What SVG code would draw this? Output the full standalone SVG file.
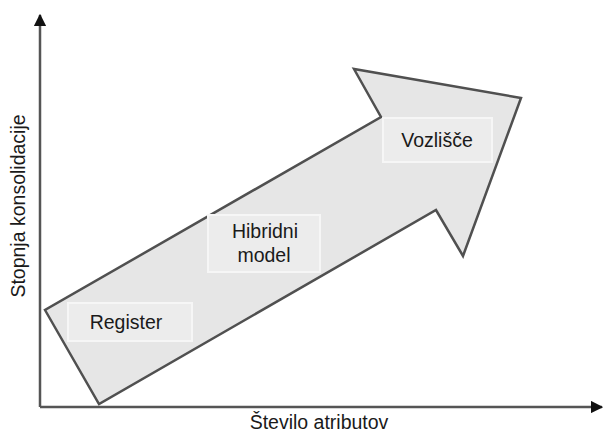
<svg xmlns="http://www.w3.org/2000/svg" width="604" height="433" viewBox="0 0 604 433">
<style>
.lbl{font-family:"Liberation Sans",Arial,sans-serif;font-size:19.5px;fill:#1a1a1a;text-anchor:middle}
.box{fill:#ececec;stroke:#f6f6f6;stroke-width:2}
.axis{stroke:#555;stroke-width:2.5;fill:none}
</style>
<defs>
<marker id="ah" viewBox="0 0 10 10" refX="9" refY="5" markerWidth="5" markerHeight="5" markerUnits="strokeWidth" orient="auto">
<path d="M0,0 L10,5 L0,10 z" fill="#111"/>
</marker>
</defs>
<rect width="604" height="433" fill="#fff"/>
<g id="connectors">
<line class="axis" x1="40" y1="407" x2="40" y2="15" marker-end="url(#ah)"/>
<line class="axis" x1="40" y1="407" x2="602" y2="407" marker-end="url(#ah)"/>
</g>
<g id="arrow">
<polygon points="45,310 99,404 436,210 463,256 521,98 354,69 381,117" fill="#e6e6e6" stroke="#505050" stroke-width="2.5" stroke-linejoin="miter"/>
</g>
<g id="register">
<rect class="box" x="68" y="303" width="124" height="38"/>
<text class="lbl" x="126" y="329">Register</text>
</g>
<g id="hibridni">
<rect class="box" x="208" y="215" width="112" height="57"/>
<text class="lbl" x="265" y="238">Hibridni</text>
<text class="lbl" x="264" y="262">model</text>
</g>
<g id="vozlisce">
<rect class="box" x="383" y="118" width="109" height="44"/>
<text class="lbl" x="437" y="147">Vozlišče</text>
</g>
<g id="axislabels">
<text class="lbl" x="319" y="429">Število atributov</text>
<text class="lbl" transform="translate(25,206) rotate(-90)">Stopnja konsolidacije</text>
</g>
</svg>
